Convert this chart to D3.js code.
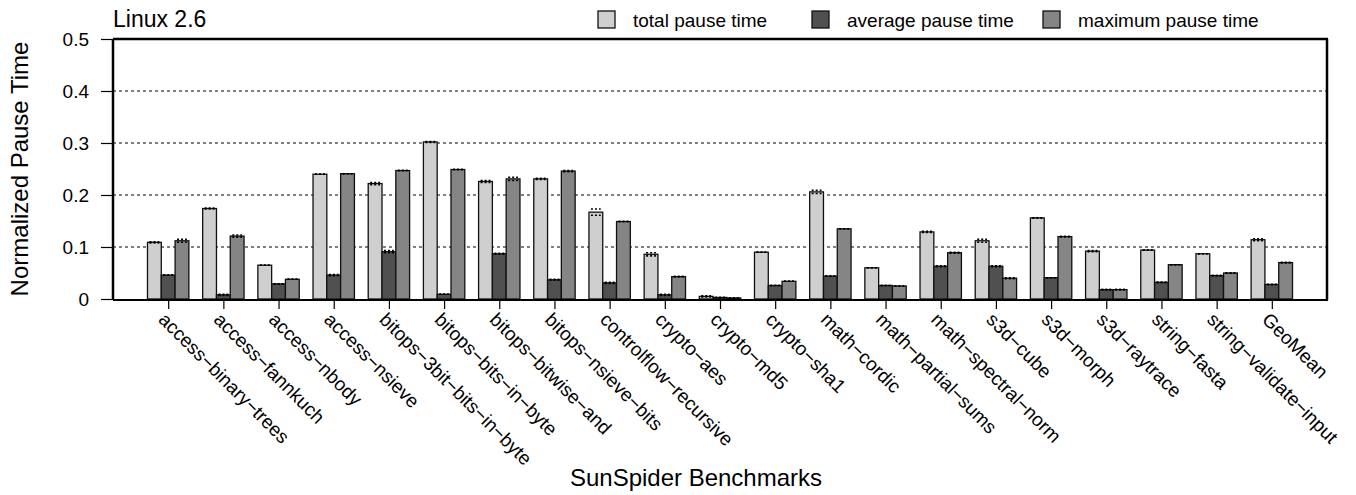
<!DOCTYPE html>
<html><head><meta charset="utf-8">
<script src="https://cdn.jsdelivr.net/npm/d3@7/dist/d3.min.js"></script>
<style>body{margin:0;background:#fff}svg{display:block;font-family:"Liberation Sans",Arial,sans-serif}</style>
</head><body><svg id="c" width="1356" height="495"></svg>
<script>
const categories = ["access\u2212binary\u2212trees","access\u2212fannkuch","access\u2212nbody","access\u2212nsieve","bitops\u22123bit\u2212bits\u2212in\u2212byte","bitops\u2212bits\u2212in\u2212byte","bitops\u2212bitwise\u2212and","bitops\u2212nsieve\u2212bits","controlflow\u2212recursive","crypto\u2212aes","crypto\u2212md5","crypto\u2212sha1","math\u2212cordic","math\u2212partial\u2212sums","math\u2212spectral\u2212norm","s3d\u2212cube","s3d\u2212morph","s3d\u2212raytrace","string\u2212fasta","string\u2212validate\u2212input","GeoMean"];
const seriesNames = ["total pause time","average pause time","maximum pause time"];
const totalPause   = [0.109,0.174,0.065,0.240,0.222,0.302,0.226,0.231,0.167,0.086,0.005,0.090,0.206,0.060,0.129,0.112,0.156,0.092,0.094,0.087,0.114];
const averagePause = [0.046,0.008,0.029,0.046,0.091,0.009,0.087,0.037,0.031,0.008,0.003,0.026,0.044,0.026,0.063,0.063,0.041,0.018,0.032,0.045,0.028];
const maximumPause = [0.112,0.121,0.038,0.241,0.247,0.249,0.231,0.246,0.149,0.043,0.002,0.034,0.135,0.025,0.089,0.040,0.120,0.018,0.066,0.050,0.070];
const totalErr     = [0.001,0.001,0.000,0.000,0.002,0.001,0.002,0.001,0.006,0.003,0.001,0.000,0.003,0.000,0.001,0.003,0.000,0.001,0.000,0.000,0.002];
const averageErr   = [0.000,0.001,0.000,0.001,0.002,0.000,0.001,0.001,0.001,0.001,0.000,0.000,0.000,0.000,0.001,0.001,0.000,0.000,0.000,0.000,0.000];
const maximumErr   = [0.003,0.002,0.000,0.000,0.000,0.000,0.003,0.001,0.000,0.000,0.000,0.000,0.000,0.000,0.001,0.001,0.000,0.000,0.000,0.000,0.000];
const yTicks = [0,0.1,0.2,0.3,0.4,0.5];
const yTickLabels = ["0","0.1","0.2","0.3","0.4","0.5"];
const colors = ["#cfcfcf","#505050","#858585"];

const svg = d3.select("#c");
const L=113,R=1327,T=39,B=299;
const x = d3.scalePoint().domain(categories).range([L,R]).padding(1);
const y = d3.scaleLinear().domain([0,0.5]).range([B,T]);
const step = x.step();
const bw = step/4;
const sub = d3.scaleBand().domain([0,1,2]).range([-1.5*bw,1.5*bw]).padding(0);

// gridlines
svg.append("g").selectAll("line").data(yTicks.filter(v=>v>0&&v<0.5)).join("line")
  .attr("x1",L).attr("x2",R).attr("y1",d=>y(d)).attr("y2",d=>y(d))
  .attr("stroke","#000").attr("stroke-width",1).attr("stroke-dasharray","3,3");

// y axis
const ya = svg.append("g").attr("transform",`translate(${L},0)`)
  .call(d3.axisLeft(y).tickValues(yTicks).tickFormat((d,i)=>yTickLabels[i]).tickSize(12).tickPadding(12));
ya.select(".domain").remove();
ya.selectAll(".tick line").attr("stroke","#000").attr("stroke-width",1.2);
ya.selectAll(".tick text").attr("font-size",19).attr("fill","#000").attr("font-family","Liberation Sans, Arial, sans-serif");

// bars
const vals=[totalPause,averagePause,maximumPause];
const errs=[totalErr,averageErr,maximumErr];
const data=[];
categories.forEach((c,i)=>{for(let s=0;s<3;s++)data.push({c,s,v:vals[s][i],e:errs[s][i]});});
svg.append("g").selectAll("rect").data(data).join("rect")
  .attr("x",d=>x(d.c)+sub(d.s)).attr("width",sub.bandwidth())
  .attr("y",d=>y(d.v)).attr("height",d=>B-y(d.v))
  .attr("fill",d=>colors[d.s]).attr("stroke","#111").attr("stroke-width",1.3);
// error caps
const eg=svg.append("g");
data.forEach(d=>{
  [d.v+d.e,d.v-d.e].forEach(v=>{
    eg.append("line").attr("x1",x(d.c)+sub(d.s)+2).attr("x2",x(d.c)+sub(d.s)+sub.bandwidth()-2)
      .attr("y1",y(v)).attr("y2",y(v)).attr("stroke","#000").attr("stroke-width",1.6).attr("stroke-dasharray","2,2");
  });
});

// frame
svg.append("line").attr("x1",L).attr("x2",L).attr("y1",T).attr("y2",B+1).attr("stroke","#000").attr("stroke-width",2.5);
svg.append("line").attr("x1",L).attr("x2",R+1).attr("y1",T).attr("y2",T).attr("stroke","#000").attr("stroke-width",2.5);
svg.append("line").attr("x1",R).attr("x2",R).attr("y1",T).attr("y2",B+1).attr("stroke","#000").attr("stroke-width",2.5);

// x axis
const xa = svg.append("g").attr("transform",`translate(0,${B+1})`)
  .call(d3.axisBottom(x).tickSize(9).tickFormat(""));
xa.select(".domain").attr("d",`M${L},0H${R+1}`).attr("stroke","#000").attr("stroke-width",2);
xa.selectAll(".tick line").attr("stroke","#000").attr("stroke-width",1.2);
svg.append("g").selectAll("text").data(categories).join("text")
  .attr("transform",d=>`translate(${x(d)-6},${B+17}) rotate(45)`)
  .attr("font-size",19).attr("fill","#000").attr("dy","0.35em").text(d=>d);

// titles
svg.append("text").attr("x",L).attr("y",27).attr("font-size",23).text("Linux 2.6");
svg.append("text").attr("transform",`translate(28,${(T+B)/2}) rotate(-90)`).attr("text-anchor","middle").attr("font-size",24).text("Normalized Pause Time");
svg.append("text").attr("x",696).attr("y",486).attr("text-anchor","middle").attr("font-size",24).text("SunSpider Benchmarks");

// legend
const legX=[598,812,1043];
const lg=svg.append("g");
seriesNames.forEach((n,i)=>{
  lg.append("rect").attr("x",legX[i]).attr("y",11).attr("width",17).attr("height",17).attr("fill",colors[i]).attr("stroke","#111").attr("stroke-width",1.3);
  lg.append("text").attr("x",legX[i]+35).attr("y",27).attr("font-size",19).text(n);
});
</script></body></html>
